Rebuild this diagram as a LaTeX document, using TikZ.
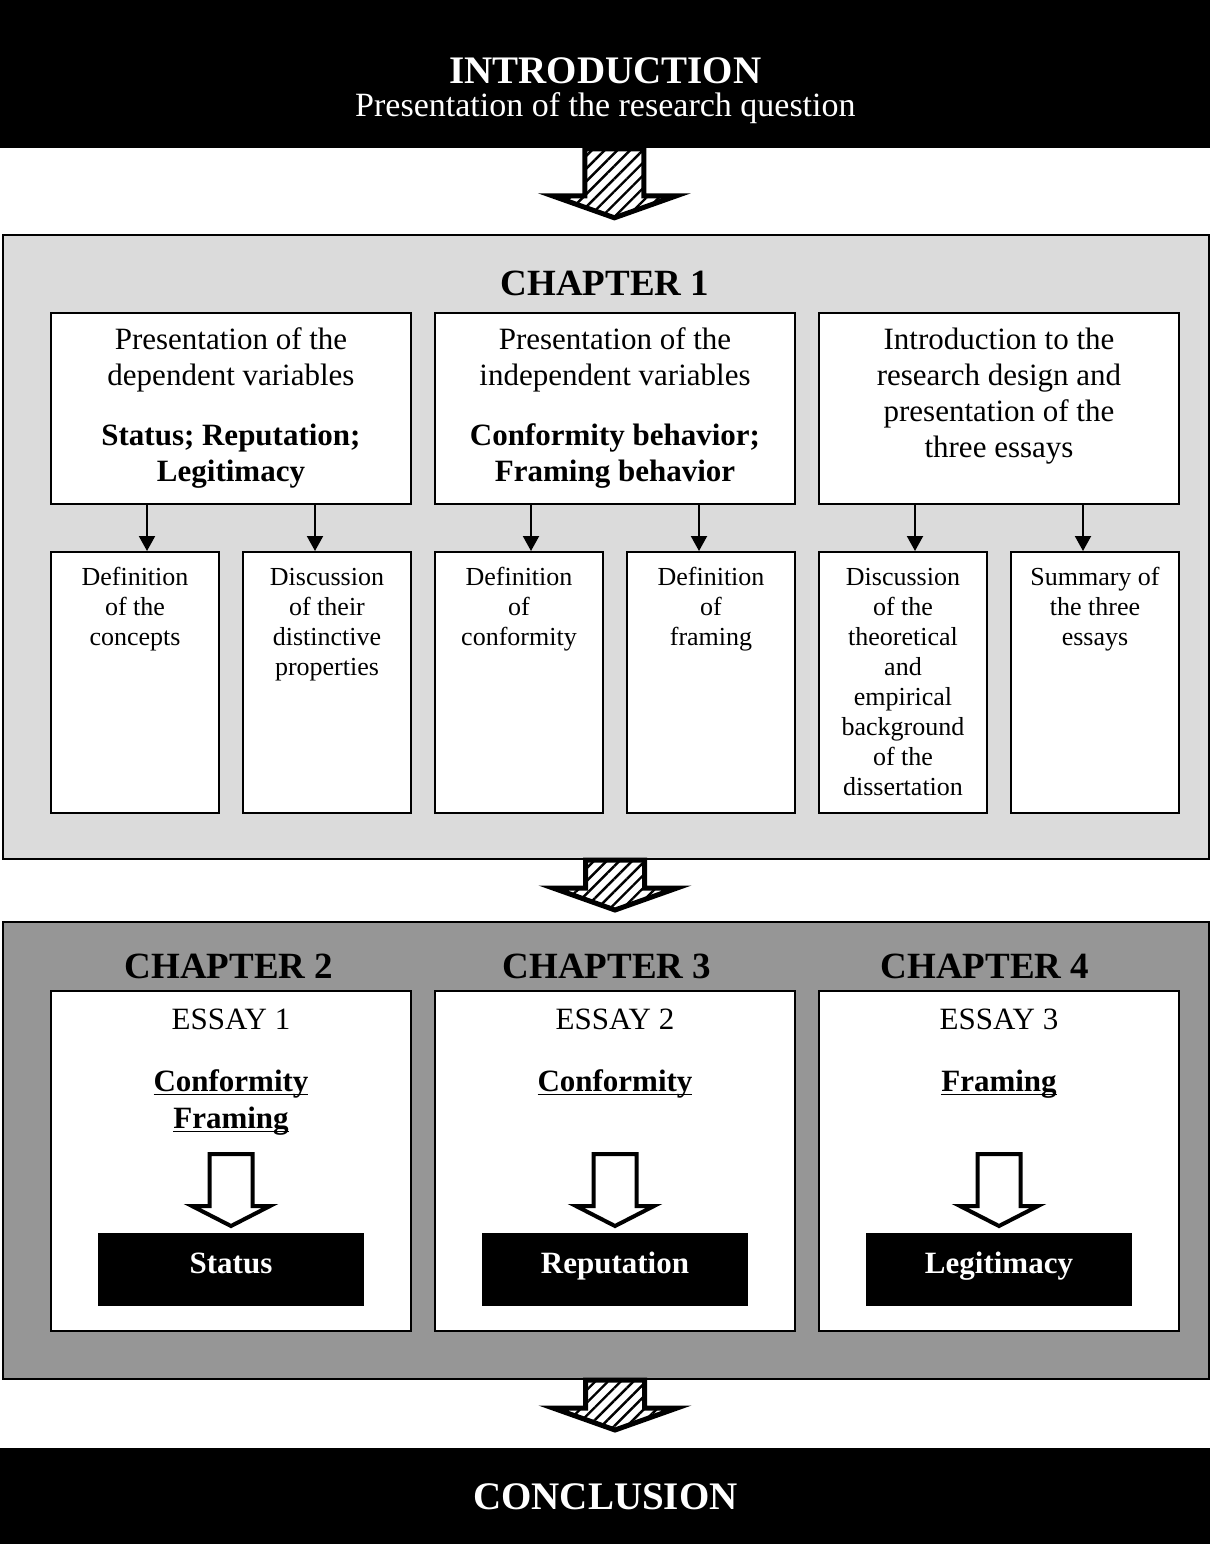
\documentclass[tikz,border=0pt]{standalone}
\usepackage{fontspec}
\setmainfont{Liberation Serif}
\usetikzlibrary{arrows.meta,patterns.meta}

\definecolor{panellight}{HTML}{DBDBDB}
\definecolor{paneldark}{HTML}{969696}

% text block of fixed size, first baseline at a given depth
\newcommand{\cardtext}[4]{\parbox[t][#2][t]{#1}{\centering\rule{0pt}{#3}#4}}
\newcommand{\ulword}[1]{\leavevmode\setbox0\hbox{#1}\rlap{\rule[-2.2pt]{\wd0}{0.8pt}}\box0}

\tikzset{
  panel/.style={draw=black, line width=1pt, anchor=north west, inner sep=0pt},
  card/.style={draw=black, fill=white, line width=1pt, anchor=north west, inner sep=0pt},
  blackbar/.style={fill=black, text=white, anchor=north west, inner sep=0pt},
  result/.style={fill=black, text=white, minimum width=133pt, minimum height=36.5pt,
    text height=10pt, text depth=6.5pt,
    anchor=north, inner sep=0pt, font=\fontsize{15.5}{18}\selectfont\bfseries},
  chaptitle/.style={anchor=base, font=\fontsize{18.5}{22}\selectfont\bfseries},
  bodyfont/.style={font=\fontsize{15.5}{18}\selectfont},
  essayfont/.style={font=\fontsize{15.5}{18.5}\selectfont},
  smallfont/.style={font=\fontsize{13}{15}\selectfont},
  link/.style={line width=1pt, -{Triangle[length=7.5pt,width=8pt]}},
  hatchbody/.style={line width=2.5pt, line join=miter, preaction={fill=white},
    pattern={Lines[angle=45,distance=4.5pt,line width=1.2pt]}},
  hollowbody/.style={line width=2pt, line join=miter, fill=white},
  pics/hatchdown/.style={code={
    \draw[hatchbody] (-29.5,-#1) -- (-29.5,0) -- (-62,0) -- (0,22) -- (62,0)
      -- (29.5,0) -- (29.5,-#1) -- cycle;
  }},
  pics/hollowdown/.style={code={
    \draw[hollowbody] (0,0) -- (-39,-20) -- (-21.5,-20) -- (-21.5,-72) -- (21.5,-72)
      -- (21.5,-20) -- (39,-20) -- cycle;
  }}
}

\begin{document}
\begin{tikzpicture}[x=0.5pt,y=-0.5pt]
\useasboundingbox (0,0) rectangle (1210,1544);

% introduction
\node[blackbar] (intro) at (0,0) {\cardtext{605pt}{74pt}{41.5pt}{%
  {\fontsize{19.5}{16.5}\selectfont\bfseries INTRODUCTION}\\
  \fontsize{17}{16.5}\selectfont Presentation of the research question}};
\pic at ([xshift=4.5pt,yshift=-23.5pt]intro.south) {hatchdown=47};

% chapter 1
\node[panel, fill=panellight, minimum width=603pt, minimum height=312pt] (ch1) at (2,234) {};
\node[chaptitle] (ch1title) at (605,295) {CHAPTER 1};

\node[card, bodyfont] (t1) at (50,312) {\cardtext{180pt}{95.5pt}{18pt}{%
  Presentation of the\\dependent variables\\[12pt]
  \textbf{Status; Reputation;}\\\textbf{Legitimacy}}};
\node[card, bodyfont] (t2) at (434,312) {\cardtext{180pt}{95.5pt}{18pt}{%
  Presentation of the\\independent variables\\[12pt]
  \textbf{Conformity behavior;}\\\textbf{Framing behavior}}};
\node[card, bodyfont] (t3) at (818,312) {\cardtext{180pt}{95.5pt}{18pt}{%
  Introduction to the\\research design and\\presentation of the\\three essays}};

\node[card, smallfont] (s11) at (50,551) {\cardtext{84pt}{130.5pt}{16.5pt}{Definition\\of the\\concepts}};
\node[card, smallfont] (s12) at (242,551) {\cardtext{84pt}{130.5pt}{16.5pt}{Discussion\\of their\\distinctive\\properties}};
\node[card, smallfont] (s21) at (434,551) {\cardtext{84pt}{130.5pt}{16.5pt}{Definition\\of\\conformity}};
\node[card, smallfont] (s22) at (626,551) {\cardtext{84pt}{130.5pt}{16.5pt}{Definition\\of\\framing}};
\node[card, smallfont] (s31) at (818,551) {\cardtext{84pt}{130.5pt}{16.5pt}{Discussion\\of the\\theoretical\\and\\empirical\\background\\of the\\dissertation}};
\node[card, smallfont] (s32) at (1010,551) {\cardtext{84pt}{130.5pt}{16.5pt}{Summary of\\the three\\essays}};

\foreach \t/\s/\d in {t1/s11/-42pt, t1/s12/42pt, t2/s21/-42pt, t2/s22/42pt, t3/s31/-42pt, t3/s32/42pt} {
  \coordinate (a) at ([xshift=\d]\t.south);
  \draw[link] (a) -- (a |- \s.north);
}

\pic at ([xshift=4.5pt,yshift=-14pt]ch1.south) {hatchdown=28};

% chapters 2 to 4
\node[panel, fill=paneldark, minimum width=603pt, minimum height=228.5pt] (ch2) at (2,921) {};
\node[chaptitle] (ch2title) at (229,978) {CHAPTER 2};
\node[chaptitle] (ch3title) at (607,978) {CHAPTER 3};
\node[chaptitle] (ch4title) at (985,978) {CHAPTER 4};

\node[card, essayfont] (e1) at (50,990) {\cardtext{180pt}{170pt}{19pt}{%
  ESSAY 1\\[12.5pt]\textbf{\ulword{Conformity}}\\\textbf{\ulword{Framing}}}};
\node[card, essayfont] (e2) at (434,990) {\cardtext{180pt}{170pt}{19pt}{%
  ESSAY 2\\[12.5pt]\textbf{\ulword{Conformity}}}};
\node[card, essayfont] (e3) at (818,990) {\cardtext{180pt}{170pt}{19pt}{%
  ESSAY 3\\[12.5pt]\textbf{\ulword{Framing}}}};

\node[result] (r1) at ([yshift=-121.5pt]e1.north) {Status};
\node[result] (r2) at ([yshift=-121.5pt]e2.north) {Reputation};
\node[result] (r3) at ([yshift=-121.5pt]e3.north) {Legitimacy};
\foreach \r in {r1,r2,r3}
  \pic at ([yshift=3.5pt]\r.north) {hollowdown};

\pic at ([xshift=4.5pt,yshift=-14pt]ch2.south) {hatchdown=28};

% conclusion
\node[blackbar, minimum width=605pt, minimum height=48pt,
  font=\fontsize{19.5}{22}\selectfont\bfseries] (concl) at (0,1448) {CONCLUSION};
\end{tikzpicture}
\end{document}
